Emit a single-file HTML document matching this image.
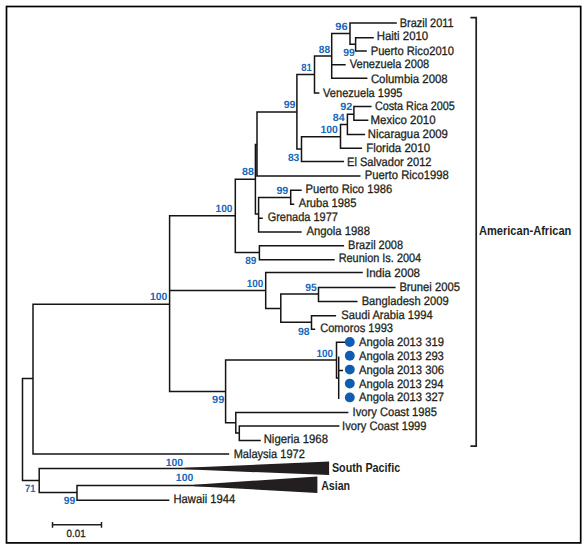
<!DOCTYPE html>
<html><head><meta charset="utf-8"><title>Phylogenetic tree</title>
<style>
html,body{margin:0;padding:0;background:#fff;}
body{width:587px;height:549px;overflow:hidden;}
svg{display:block;font-family:"Liberation Sans",sans-serif;}
</style></head><body>
<svg width="587" height="549" viewBox="0 0 587 549">
<rect x="0" y="0" width="587" height="549" fill="#fff"/>
<rect x="6.5" y="6.5" width="574.2" height="536.4" fill="none" stroke="#000" stroke-width="1.7"/>
<path d="M22.5 377.75V481.25 M22.5 378.5H33 M22.5 480.5H39.2 M33 303.55V454.65 M33 304.3H169.6 M33 453.9H229.2 M169.6 215.05V392.35 M169.6 215.8H235.3 M169.6 290.4H265.7 M169.6 391.6H225.6 M235.3 178.45V253.35 M235.3 179.2H255.4 M235.3 252.6H259.4 M255.4 143.85V214.85 M255.4 144.6H257 M255.4 214.1H258.6 M257 111.35V176.85 M257 112.1H296.9 M257 176.1H360.5 M296.9 73.65V149.75 M296.9 74.4H314.5 M296.9 149H301.5 M314.5 55.15V93.65 M314.5 55.9H331.7 M314.5 92.9H319.4 M331.7 32.65V79.05 M331.7 33.4H350 M331.7 64.8H345.7 M331.7 78.3H367.4 M350 22.35V44.95 M350 23.1H396.8 M350 44.2H355.6 M355.6 37.05V51.75 M355.6 37.8H373.8 M355.6 51H366.8 M301.5 135.95V162.35 M301.5 136.7H340.5 M301.5 161.6H344.1 M340.5 123.65V148.95 M340.5 124.4H347.4 M340.5 148.2H362.1 M347.4 113.55V135.35 M347.4 114.3H353.9 M347.4 134.6H365.1 M353.9 105.65V121.05 M353.9 106.4H371.5 M353.9 120.3H368.4 M258.6 196.65V232.65 M258.6 197.4H290.7 M258.6 218.2H262.8 M258.6 231.9H301.7 M290.7 189.45V205.05 M290.7 190.2H301.7 M290.7 204.3H294.3 M259.4 244.95V260.55 M259.4 245.7H344.1 M259.4 259.8H334.7 M265.7 271.75V309.15 M265.7 272.5H362.8 M265.7 308.4H280.8 M280.8 293.15V323.05 M280.8 293.9H318.5 M280.8 322.3H311.5 M318.5 286.65V302.25 M318.5 287.4H395.6 M318.5 301.5H357.5 M311.5 314.95V330.05 M311.5 315.7H336.1 M311.5 329.3H315.2 M225.6 359.35V423.55 M225.6 360.1H336.5 M225.6 422.8H235.8 M336.5 341.45V378.85 M336.5 342.2H346 M336.5 378.1H338.7 M338.7 356.55V399.05 M338.7 370.6H343 M235.8 411.85V433.75 M235.8 412.6H348.4 M235.8 433H239.3 M239.3 425.25V441.15 M239.3 426H339.4 M239.3 440.4H260.8 M39.2 467.85V493.15 M39.2 468.6H240 M39.2 492.4H77 M77 484.75V501.05 M77 485.4H250 M77 500.3H169.3" fill="none" stroke="#171314" stroke-width="1.5" stroke-linecap="butt"/>
<path d="M184.5 467.85 L329.1 461.6 L329.1 475 L184.5 469.35 Z" fill="#231f20"/>
<path d="M194 484.65 L317.4 476.5 L317.4 493 L194 486.15 Z" fill="#231f20"/>
<path d="M470.4 17.6 H476.2 V446.2 H470.4" fill="none" stroke="#231f20" stroke-width="1.7"/>
<path d="M52.5 524.8 H101.5 M52.5 521.9 V527.8 M101.5 521.9 V527.8" fill="none" stroke="#231f20" stroke-width="1.5"/>
<circle cx="349.8" cy="342" r="4.95" fill="#0f5db0"/>
<circle cx="349.8" cy="355.8" r="4.95" fill="#0f5db0"/>
<circle cx="349.8" cy="369.6" r="4.95" fill="#0f5db0"/>
<circle cx="349.8" cy="383.6" r="4.95" fill="#0f5db0"/>
<circle cx="349.8" cy="397.4" r="4.95" fill="#0f5db0"/>
<g fill="#231f20" stroke="#231f20" stroke-width="0.3" font-size="12.3" text-rendering="geometricPrecision">
<text x="399.68" y="27" textLength="53.99" lengthAdjust="spacingAndGlyphs">Brazil 2011</text>
<text x="376.68" y="39.8" textLength="51.56" lengthAdjust="spacingAndGlyphs">Haiti 2010</text>
<text x="370.68" y="54.8" textLength="83.41" lengthAdjust="spacingAndGlyphs">Puerto Rico2010</text>
<text x="349.72" y="68.4" textLength="79.53" lengthAdjust="spacingAndGlyphs">Venezuela 2008</text>
<text x="370.89" y="83" textLength="76.82" lengthAdjust="spacingAndGlyphs">Columbia 2008</text>
<text x="323.1" y="96.9" textLength="79.36" lengthAdjust="spacingAndGlyphs">Venezuela 1995</text>
<text x="374.9" y="110.1" textLength="79.9" lengthAdjust="spacingAndGlyphs">Costa Rica 2005</text>
<text x="370.53" y="124" textLength="65.02" lengthAdjust="spacingAndGlyphs">Mexico 2010</text>
<text x="367.71" y="137.6" textLength="80.18" lengthAdjust="spacingAndGlyphs">Nicaragua 2009</text>
<text x="366.14" y="152" textLength="63.92" lengthAdjust="spacingAndGlyphs">Florida 2010</text>
<text x="347.04" y="166" textLength="84.45" lengthAdjust="spacingAndGlyphs">El Salvador 2012</text>
<text x="364.79" y="178.9" textLength="84.01" lengthAdjust="spacingAndGlyphs">Puerto Rico1998</text>
<text x="305.5" y="193" textLength="86.63" lengthAdjust="spacingAndGlyphs">Puerto Rico 1986</text>
<text x="298.68" y="207.1" textLength="57.8" lengthAdjust="spacingAndGlyphs">Aruba 1985</text>
<text x="267.65" y="221.3" textLength="70.24" lengthAdjust="spacingAndGlyphs">Grenada 1977</text>
<text x="306.46" y="235" textLength="63.46" lengthAdjust="spacingAndGlyphs">Angola 1988</text>
<text x="348.1" y="248.6" textLength="54.98" lengthAdjust="spacingAndGlyphs">Brazil 2008</text>
<text x="338.64" y="262.3" textLength="82.55" lengthAdjust="spacingAndGlyphs">Reunion Is. 2004</text>
<text x="365.94" y="277.2" textLength="54.12" lengthAdjust="spacingAndGlyphs">India 2008</text>
<text x="399.38" y="291.3" textLength="60.59" lengthAdjust="spacingAndGlyphs">Brunei 2005</text>
<text x="361.67" y="304.6" textLength="86.94" lengthAdjust="spacingAndGlyphs">Bangladesh 2009</text>
<text x="341.37" y="318.7" textLength="91.28" lengthAdjust="spacingAndGlyphs">Saudi Arabia 1994</text>
<text x="320.18" y="332.4" textLength="72.82" lengthAdjust="spacingAndGlyphs">Comoros 1993</text>
<text x="359" y="346.3" textLength="84.96" lengthAdjust="spacingAndGlyphs">Angola 2013 319</text>
<text x="358.99" y="359.9" textLength="84.88" lengthAdjust="spacingAndGlyphs">Angola 2013 293</text>
<text x="359" y="373.8" textLength="84.94" lengthAdjust="spacingAndGlyphs">Angola 2013 306</text>
<text x="358.99" y="387.5" textLength="84.51" lengthAdjust="spacingAndGlyphs">Angola 2013 294</text>
<text x="358.99" y="401.4" textLength="84.98" lengthAdjust="spacingAndGlyphs">Angola 2013 327</text>
<text x="352.61" y="416" textLength="84.34" lengthAdjust="spacingAndGlyphs">Ivory Coast 1985</text>
<text x="342.12" y="430" textLength="84.42" lengthAdjust="spacingAndGlyphs">Ivory Coast 1999</text>
<text x="263.69" y="442.7" textLength="64.28" lengthAdjust="spacingAndGlyphs">Nigeria 1968</text>
<text x="233.68" y="457.7" textLength="71.11" lengthAdjust="spacingAndGlyphs">Malaysia 1972</text>
<text x="173.53" y="503.2" textLength="61.77" lengthAdjust="spacingAndGlyphs">Hawaii 1944</text>
<text x="66.6" y="536.7" font-size="10.4" textLength="19" lengthAdjust="spacingAndGlyphs">0.01</text>
</g>
<g fill="#231f20" font-weight="bold">
<text x="478.98" y="235.2" font-size="12.6" textLength="92.36" lengthAdjust="spacingAndGlyphs">American-African</text>
<text x="331.89" y="471.9" font-size="12.6" textLength="68.28" lengthAdjust="spacingAndGlyphs">South Pacific</text>
<text x="321.13" y="489.5" font-size="12.3" textLength="28.94" lengthAdjust="spacingAndGlyphs">Asian</text>
</g>
<g fill="#1767ba" font-weight="bold" font-size="10.5" text-rendering="geometricPrecision">
<text x="335.38" y="29.7" textLength="12.31" lengthAdjust="spacingAndGlyphs">96</text>
<text x="318.82" y="53" textLength="11.24" lengthAdjust="spacingAndGlyphs">88</text>
<text x="343.13" y="55.9" textLength="11.51" lengthAdjust="spacingAndGlyphs">99</text>
<text x="301.14" y="70.7" textLength="10.62" lengthAdjust="spacingAndGlyphs">81</text>
<text x="283.71" y="108.4" textLength="11.71" lengthAdjust="spacingAndGlyphs">99</text>
<text x="340.15" y="110" textLength="12.03" lengthAdjust="spacingAndGlyphs">92</text>
<text x="332.71" y="120.7" textLength="11.86" lengthAdjust="spacingAndGlyphs">84</text>
<text x="320.38" y="133" textLength="17.44" lengthAdjust="spacingAndGlyphs">100</text>
<text x="287.9" y="161.4" textLength="11.46" lengthAdjust="spacingAndGlyphs">83</text>
<text x="242.06" y="174.8" textLength="11.86" lengthAdjust="spacingAndGlyphs">88</text>
<text x="276.45" y="193.6" textLength="11.86" lengthAdjust="spacingAndGlyphs">99</text>
<text x="215.52" y="211.8" textLength="16.98" lengthAdjust="spacingAndGlyphs">100</text>
<text x="245.3" y="263.7" textLength="11.12" lengthAdjust="spacingAndGlyphs">89</text>
<text x="246.78" y="287.3" textLength="16.57" lengthAdjust="spacingAndGlyphs">100</text>
<text x="305.23" y="290.7" textLength="11.41" lengthAdjust="spacingAndGlyphs">95</text>
<text x="149.96" y="299.9" textLength="17.36" lengthAdjust="spacingAndGlyphs">100</text>
<text x="298.07" y="334.6" textLength="11.6" lengthAdjust="spacingAndGlyphs">98</text>
<text x="316.5" y="357" textLength="16.55" lengthAdjust="spacingAndGlyphs">100</text>
<text x="212.06" y="402.8" textLength="12.19" lengthAdjust="spacingAndGlyphs">99</text>
<text x="165.77" y="465.6" textLength="17.37" lengthAdjust="spacingAndGlyphs">100</text>
<text x="175.87" y="480.6" textLength="17.38" lengthAdjust="spacingAndGlyphs">100</text>
<text x="25.08" y="492.4" textLength="10.36" lengthAdjust="spacingAndGlyphs">71</text>
<text x="63.69" y="503.9" textLength="11.47" lengthAdjust="spacingAndGlyphs">99</text>
</g>
</svg>
</body></html>
